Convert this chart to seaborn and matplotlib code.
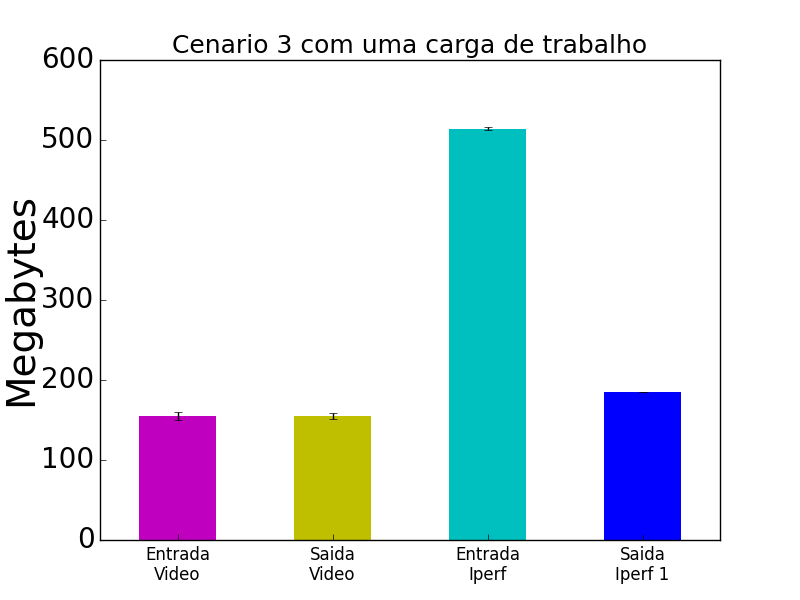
import numpy as np
import pandas as pd
import seaborn as sns
import matplotlib

matplotlib.use('Agg')
import matplotlib.pyplot as plt

plt.style.use('classic')

# Dados do grafico
categorias = ['Entrada\nVideo', 'Saida\nVideo', 'Entrada\nIperf', 'Saida\nIperf 1']
medias = [155, 155, 514, 185]
erros = [4.5, 4.0, 1.8, 0.5]
cores = ['#bf00bf', '#bfbf00', '#00bfbf', '#0000ff']

df = pd.DataFrame({'Categoria': categorias, 'Megabytes': medias})

fig, ax = plt.subplots(figsize=(8, 6), dpi=100)
sns.barplot(data=df, x='Categoria', y='Megabytes', hue='Categoria',
            palette=cores, saturation=1, width=0.5, errorbar=None,
            linewidth=0, legend=False, ax=ax)
ax.errorbar(np.arange(len(medias)), medias, yerr=erros, fmt='none',
            ecolor='black', capsize=3, elinewidth=1)

ax.set_xlim(-0.5, 3.5)
ax.set_ylim(0, 600)
ax.set_title('Cenario 3 com uma carga de trabalho', fontsize=18)
ax.set_ylabel('Megabytes', fontsize=28, labelpad=1)
ax.set_xlabel('')
ax.yaxis.set_ticks_position('left')
ax.xaxis.set_ticks_position('bottom')
ax.tick_params(axis='y', labelsize=20)
ax.tick_params(axis='x', labelsize=12)

plt.subplots_adjust(left=0.125, right=0.9, bottom=0.1, top=0.9)
plt.savefig('out.png', dpi=100)
